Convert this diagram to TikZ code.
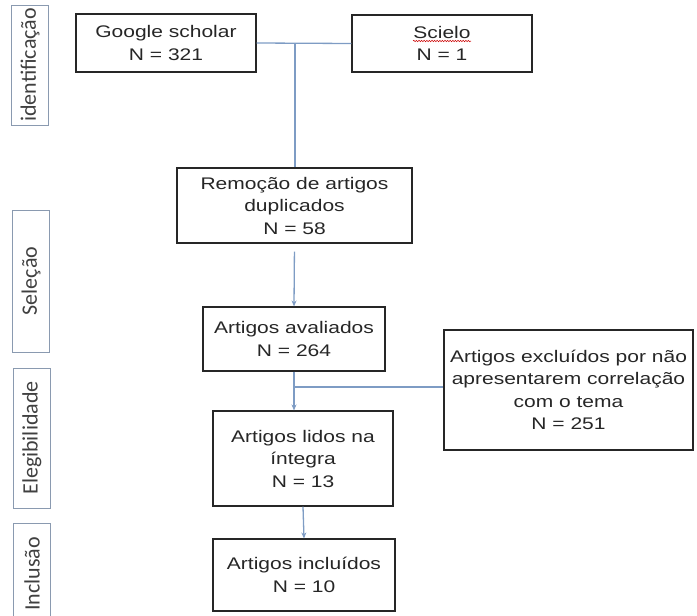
\documentclass[tikz,border=0pt]{standalone}
\usepackage{fontspec}
\setmainfont{Liberation Sans}[FakeStretch=1.25]
\newfontfamily\sidefont{Carlito}
\usetikzlibrary{arrows.meta,calc,decorations.pathmorphing}
\definecolor{linkblue}{HTML}{7E9CC4}
\definecolor{phaseedge}{HTML}{8A9AB0}
\definecolor{txtgray}{HTML}{262626}
\tikzset{
  block/.style={draw=black!85,line width=1.1pt,rectangle,inner sep=0pt,align=center,text=txtgray,font=\fontsize{16.8}{22.5}\selectfont},
  phase/.style={draw=phaseedge,line width=1pt,rectangle,inner sep=0pt,rotate=90,minimum height=37pt,text=black!75,font=\sidefont\fontsize{22}{24}\selectfont},
  link/.style={draw=linkblue,line width=1.3pt},
  spell/.style={draw=red!80!black,line width=0.5pt,decorate,decoration={snake,amplitude=0.7pt,segment length=2.6pt}}
}

\begin{document}
\begin{tikzpicture}[x=1pt,y=-1pt,>={Stealth[length=6pt,width=5pt]}]
  \useasboundingbox (0,0) rectangle (697,616);

  % fases
  \node[phase,minimum width=120pt] (pid) at (30,65) {identificação};
  \node[phase,minimum width=142pt] (psel) at (31,281) {Seleção};
  \node[phase,minimum width=140pt] (pele) at (32,438) {Elegibilidade};
  \node[phase,minimum width=102pt] (pinc) at (32,574) {Inclusão};

  % caixas
  \node[block,minimum width=180pt,minimum height=58pt] (gs) at (166,43) {Google scholar\\N = 321};
  \node[block,minimum width=180pt,minimum height=57pt] (sci) at (442,43.5) {Scielo\\N = 1};
  \node[block,minimum width=235pt,minimum height=75pt] (rem) at (294.5,205.5) {Remoção de artigos\\duplicados\\N = 58};
  \node[block,minimum width=182pt,minimum height=64pt] (ava) at (294,339) {Artigos avaliados\\N = 264};
  \node[block,minimum width=249pt,minimum height=120pt] (exc) at (568.5,390) {Artigos excluídos por não\\apresentarem correlação\\com o tema\\N = 251};
  \node[block,minimum width=180pt,minimum height=95pt] (lid) at (303,458.5) {Artigos lidos na\\íntegra\\N = 13};
  \node[block,minimum width=182pt,minimum height=72pt] (inc) at (304,575) {Artigos incluídos\\N = 10};

  \coordinate (sp) at (295,43);
  \coordinate (mg) at (294,387);

  \draw[link] (gs.east) -- (sci.west);
  \draw[link] (sp) -- (sp |- rem.north);
  \draw[link,->,shorten <=8pt] (rem.south) -- (ava.north);
  \draw[link,->] (ava.south) -- (ava.south |- lid.north);
  \draw[link] (mg) -- (mg -| exc.west);
  \draw[link,->] (lid.south) -- (inc.north);

  % sublinhado do corretor
  \draw[spell] ($(sci.center)+(-29,-2.5)$) -- ++(58,0);
\end{tikzpicture}
\end{document}
